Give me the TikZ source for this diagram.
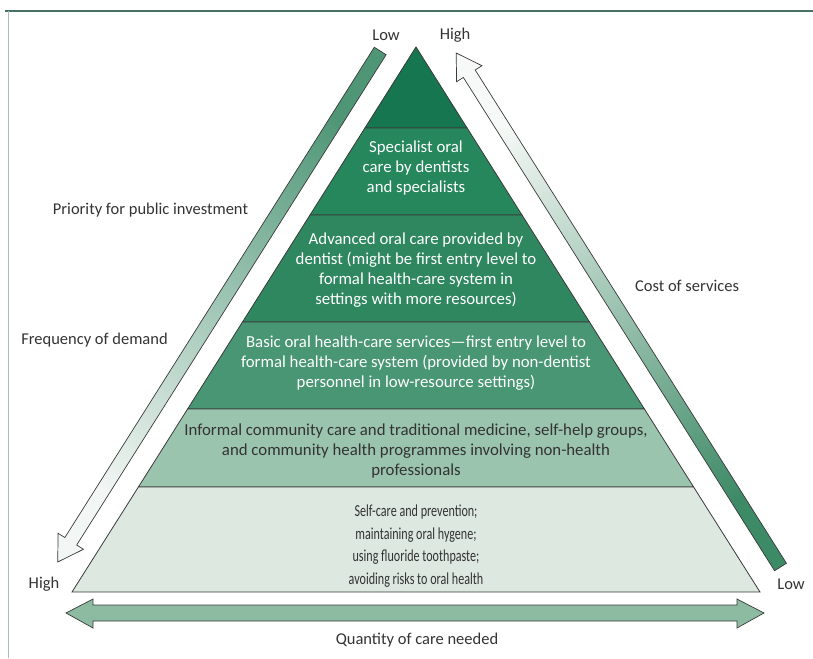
\documentclass[tikz,border=0pt]{standalone}
\usepackage{fontspec}
\setmainfont{Carlito}
\usetikzlibrary{calc}

\definecolor{frameTop}{HTML}{46705F}
\definecolor{frameLeft}{HTML}{A9BDB5}
\definecolor{tierA}{HTML}{167650}
\definecolor{tierB}{HTML}{26875C}
\definecolor{tierC}{HTML}{2F8760}
\definecolor{tierD}{HTML}{489673}
\definecolor{tierE}{HTML}{9BC4AF}
\definecolor{tierF}{HTML}{DCE8E0}
\definecolor{inkGrey}{HTML}{333333}
\definecolor{edgeGrey}{HTML}{3A3A3A}
\definecolor{bandGreen}{HTML}{8CBBA2}
\definecolor{leftDark}{HTML}{4E9676}
\definecolor{leftLight}{HTML}{F2F6F4}
\definecolor{rightDark}{HTML}{3D8A66}
\definecolor{rightLight}{HTML}{F6F9F7}

\tikzset{
  tier/.style={draw=edgeGrey, line width=0.8pt, line join=miter},
  lighttext/.style={text=white, align=center, font=\fontsize{16.8}{20}\selectfont},
  darktext/.style={text=inkGrey, align=center, font=\fontsize{16.8}{20}\selectfont},
  sidelabel/.style={text=inkGrey, font=\fontsize{16.5}{18}\selectfont},
  bigarrow/.style={draw=edgeGrey, line width=0.7pt, line join=miter},
}

\begin{document}
\begin{tikzpicture}[x=1pt, y=-1pt]
\useasboundingbox (0,0) rectangle (813,658);

% frame lines
\draw[frameTop, line width=1.4pt] (5,11) -- (813,11);
\draw[frameLeft, line width=1pt] (8,11) -- (8,658);

% pyramid tiers, apex at (416,47), base at y = 592
\filldraw[tier, fill=tierA] (416,47) -- (467.1,128) -- (364.9,128) -- cycle;
\filldraw[tier, fill=tierB] (364.9,128) -- (467.1,128) -- (522,215) -- (310,215) -- cycle;
\filldraw[tier, fill=tierC] (310,215) -- (522,215) -- (589.5,322) -- (242.5,322) -- cycle;
\filldraw[tier, fill=tierD] (242.5,322) -- (589.5,322) -- (644.4,409) -- (187.6,409) -- cycle;
\filldraw[tier, fill=tierE] (187.6,409) -- (644.4,409) -- (693.6,487) -- (138.4,487) -- cycle;
\filldraw[tier, fill=tierF] (138.4,487) -- (693.6,487) -- (760,592) -- (72,592) -- cycle;

% tier texts
\node[lighttext] (specialist) at (416,168) {Specialist oral\\care by dentists\\and specialists};
\node[lighttext] (advanced) at (416,270) {Advanced oral care provided by\\dentist (might be first entry level to\\formal health-care system in\\settings with more resources)};
\node[lighttext] (basic) at (416,363) {Basic oral health-care services---first entry level to\\formal health-care system (provided by non-dentist\\personnel in low-resource settings)};
\node[darktext] (informal) at (416,451) {Informal community care and traditional medicine, self-help groups,\\and community health programmes involving non-health\\professionals};
\node[darktext, font=\fontsize{16.8}{22.5}\selectfont, xscale=0.72] (selfcare) at (416,546) {Self-care and prevention;\\maintaining oral hygene;\\using fluoride toothpaste;\\avoiding risks to oral health};

% left arrow: priority / frequency, pointing down-left
\coordinate (ltail) at (380.2,51);
\coordinate (ltip) at (57.7,562);
\coordinate (lbase) at ($(ltip)!24.5pt!(ltail)$);
\shade[bigarrow, top color=leftDark, bottom color=leftLight, shading angle=-32]
  ($(ltail)!7pt!90:(ltip)$)
  -- ($(lbase)!7pt!90:(ltip)$)
  -- ($(lbase)!15pt!90:(ltip)$)
  -- (ltip)
  -- ($(lbase)!15pt!-90:(ltip)$)
  -- ($(lbase)!7pt!-90:(ltip)$)
  -- ($(ltail)!7pt!-90:(ltip)$)
  -- cycle;

% right arrow: cost of services, pointing up-left
\coordinate (rtail) at (780.5,567);
\coordinate (rtip) at (456.2,53);
\coordinate (rbase) at ($(rtip)!24.5pt!(rtail)$);
\shade[bigarrow, top color=rightLight, bottom color=rightDark, shading angle=32]
  ($(rtail)!7pt!90:(rtip)$)
  -- ($(rbase)!7pt!90:(rtip)$)
  -- ($(rbase)!15pt!90:(rtip)$)
  -- (rtip)
  -- ($(rbase)!15pt!-90:(rtip)$)
  -- ($(rbase)!7pt!-90:(rtip)$)
  -- ($(rtail)!7pt!-90:(rtip)$)
  -- cycle;

% bottom double arrow: quantity of care
\filldraw[bigarrow, fill=bandGreen]
  (66,613) -- (93,599) -- (93,605) -- (737,605) -- (737,599) -- (764,613)
  -- (737,628) -- (737,621) -- (93,621) -- (93,628) -- cycle;

% side labels
\node[sidelabel] (lowtop) at (386,35) {Low};
\node[sidelabel] (hightop) at (455,35) {High};
\node[sidelabel] (priority) at (150.5,210) {Priority for public investment};
\node[sidelabel] (frequency) at (94.5,340) {Frequency of demand};
\node[sidelabel] (cost) at (687,286) {Cost of services};
\node[sidelabel] (highbottom) at (44,584) {High};
\node[sidelabel] (lowbottom) at (791,584) {Low};
\node[sidelabel] (quantity) at (417,640) {Quantity of care needed};
\end{tikzpicture}
\end{document}
